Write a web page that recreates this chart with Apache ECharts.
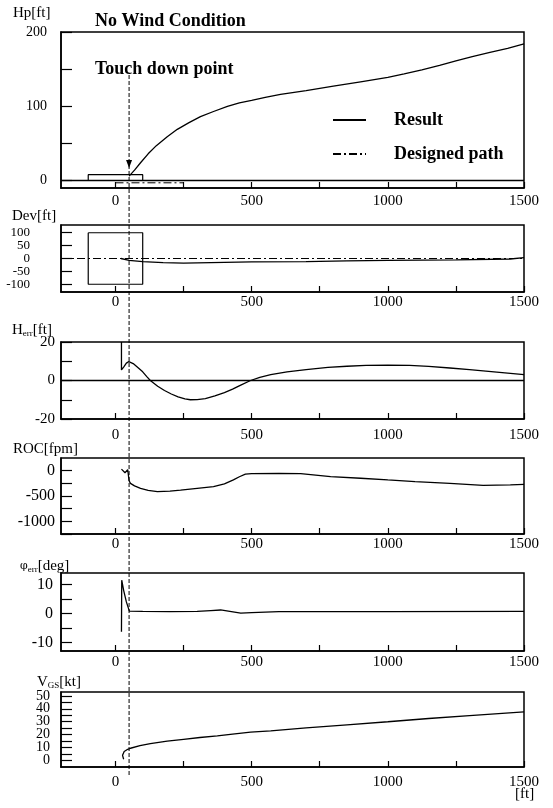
<!DOCTYPE html>
<html>
<head>
<meta charset="utf-8">
<script src="https://cdn.jsdelivr.net/npm/echarts@6/dist/echarts.min.js"></script>
<style>
html,body{margin:0;padding:0;background:#fff}
#main{width:553px;height:808px}
</style>
</head>
<body>
<div id="main"></div>
<script>
// x axis (distance, ft)
var xLabels = [0, 500, 1000, 1500];
var xTicks = [0, 250, 500, 750, 1000, 1250, 1500];
var touchDownX = 50;

// Hp[ft]
var hpResult = [[50,6],[70,14],[92,24],[120,36],[150,47],[190,59],[227,69],[270,78],[312,86],[360,93],[411,100],[455,104.5],[500,108],[550,112],[606,116],[700,121],[800,127],[900,133],[1000,139],[1060,143.5],[1125,149],[1190,155],[1250,161],[1310,167],[1375,172.5],[1440,178],[1500,184]];
var hpDesigned = [[0,-3],[250,-3]];
var hpZero = [[-200,0],[1500,0]];
var hpRunway = [[-100,0],[-100,8],[100,8],[100,0]];

// Dev[ft]
var devResult = [[20,0],[50,-7],[100,-12],[175,-16],[250,-18],[400,-15],[500,-13],[700,-12],[850,-9],[1000,-7],[1250,-5],[1450,-2],[1500,3]];
var devDesigned = [[-200,0],[1500,0]];
var devBox = [[-100,100],[-100,-100],[100,-100],[100,100],[-100,100]];

// Herr[ft]
var herrResult = [[22,20],[22,5.5],[30,7],[40,9],[49,9.8],[65,8.8],[80,7],[100,4.5],[115,2],[128,0],[155,-3],[180,-5.2],[205,-7],[230,-8.5],[255,-9.6],[275,-10],[300,-9.9],[330,-9.4],[365,-8],[400,-6.3],[430,-4.5],[460,-2.4],[496,0],[530,1.6],[570,3],[630,4.5],[700,5.7],[780,6.8],[850,7.4],[920,7.9],[1000,8],[1080,7.9],[1150,7.3],[1228,6.5],[1300,5.6],[1400,4.3],[1500,3]];
var herrZero = [[-200,0],[1500,0]];

// ROC[fpm]
var rocResult = [[22,30],[35,-40],[45,20],[50,-200],[55,-250],[70,-300],[92,-350],[120,-390],[154,-413],[200,-405],[239,-385],[300,-350],[360,-315],[400,-260],[433,-183],[455,-120],[477,-70],[500,-60],[600,-55],[680,-58],[790,-118],[900,-150],[1000,-183],[1100,-215],[1228,-250],[1350,-290],[1450,-280],[1500,-270]];

// phi_err[deg]
var phiResult = [[22,-6.3],[23,11.5],[30,8],[40,4],[51,0.8],[100,0.7],[200,0.6],[300,0.7],[350,1],[386,1.2],[420,0.7],[460,0.1],[500,0.3],[600,0.6],[1000,0.6],[1500,0.7]];

// Vgs[kt]
var vgsResult = [[30,1],[26,4],[32,7],[45,8.7],[55,9.5],[90,11.5],[128,13],[190,15],[250,16.4],[310,17.8],[374,19],[430,20.5],[496,22],[570,23],[700,25.2],[850,27.6],[1000,30],[1150,32.5],[1300,34.7],[1500,37.7]];
var vgsLabelsOdd = [10, 30, 50];

var FONT = 'Liberation Serif';
var grids = [
  {top:32, height:156},
  {top:225, height:67},
  {top:342, height:77},
  {top:458, height:76},
  {top:573, height:78},
  {top:692, height:75}
];
var xLabelMargin = [6, 3, 9, 3, 4, 8];

var yConf = [
  {min:-10, max:200, labels:[0,100,200], ticks:[0,50,100,150,200], size:14, lh:14, margin:14,
   name:'{a|Hp[ft]}', nx:13, ny:6},
  {min:-130, max:130, labels:[-100,-50,0,50,100], ticks:[-100,-50,0,50,100], size:13, lh:11, margin:31,
   name:'{a|Dev[ft]}', nx:12, ny:209},
  {min:-20, max:20, labels:[-20,0,20], ticks:[-20,-10,0,10,20], size:15, lh:15, margin:6,
   name:'{a|H}{b|err}{a|[ft]}', nx:12, ny:323},
  {min:-1250, max:250, labels:[-1000,-500,0], ticks:[-1250,-1000,-750,-500,-250,0], size:16, lh:16, margin:6,
   name:'{a|ROC[fpm]}', nx:13, ny:442},
  {min:-13, max:14, labels:[-10,0,10], ticks:[-10,-5,0,5,10], size:16, lh:16, margin:8,
   name:'{c|φ}{b|err}{a|[deg]}', nx:20, ny:559},
  {min:-5, max:53, labels:[0,20,40], ticks:[0,5,10,15,20,25,30,35,40,45,50], size:14, lh:12, margin:11,
   name:'{a|V}{b|GS}{a|[kt]}', nx:37, ny:675}
];

var nameRich = {
  a:{fontFamily:FONT, fontSize:15, fontWeight:'normal', color:'#000'},
  b:{fontFamily:FONT, fontSize:9, fontWeight:'normal', color:'#000', verticalAlign:'bottom', padding:[6,0,0,0]},
  c:{fontFamily:'DejaVu Serif', fontSize:11, fontWeight:'normal', color:'#000'}
};

function plain(v) { return String(v); }

var yAxes = yConf.map(function (c, i) {
  return {
    type:'value', gridIndex:i, min:c.min, max:c.max,
    axisLine:{show:true, onZero:false, lineStyle:{color:'#000', width:1.5}},
    axisTick:{show:true, inside:true, length:11, customValues:c.ticks, lineStyle:{color:'#000', width:1.2}},
    axisLabel:{show:true, customValues:c.labels, formatter:plain, margin:c.margin,
               showMinLabel:true, showMaxLabel:true, hideOverlap:false,
               fontSize:c.size, lineHeight:c.lh, fontFamily:FONT, color:'#000'},
    splitLine:{show:false}
  };
});
// second label row for the tightly packed Vgs axis
yAxes.push({
  type:'value', gridIndex:5, min:yConf[5].min, max:yConf[5].max, position:'left',
  axisLine:{show:false}, axisTick:{show:false}, splitLine:{show:false},
  axisLabel:{show:true, customValues:vgsLabelsOdd, formatter:plain, margin:yConf[5].margin,
             showMinLabel:true, showMaxLabel:true,
             fontSize:yConf[5].size, lineHeight:yConf[5].lh, fontFamily:FONT, color:'#000'}
});

var option = {
  backgroundColor: '#fff',
  animation: false,
  textStyle: {fontFamily: FONT, color: '#000'},
  grid: grids.map(function (g) {
    return {left:61, right:29, top:g.top, height:g.height, show:true,
            borderColor:'#000', borderWidth:1.5, backgroundColor:'#fff',
            containLabel:false, outerBoundsMode:'none'};
  }),
  xAxis: grids.map(function (g, i) {
    return {
      type:'value', gridIndex:i, min:-200, max:1500,
      axisLine:{show:true, onZero:false, lineStyle:{color:'#000', width:1.5}},
      axisTick:{show:true, inside:true, length:6, customValues:xTicks, lineStyle:{color:'#000', width:1.2}},
      axisLabel:{show:true, customValues:xLabels, formatter:plain, margin:xLabelMargin[i],
                 fontSize:15, fontFamily:FONT, color:'#000'},
      splitLine:{show:false}
    };
  }),
  yAxis: yAxes,
  legend: {
    data:['Result','Designed path'],
    orient:'vertical', left:327, top:106,
    itemWidth:33, itemHeight:14, itemGap:16,
    itemStyle:{opacity:0},
    textStyle:{fontFamily:FONT, fontSize:18, fontWeight:'bold', color:'#000', padding:[0,0,0,23]},
    selectedMode:false
  },
  title: [
    {text:'No Wind Condition', left:90, top:7,
     textStyle:{fontFamily:FONT, fontSize:18, fontWeight:'bold', color:'#000'}},
    {text:'Touch down point', left:90, top:55,
     textStyle:{fontFamily:FONT, fontSize:18, fontWeight:'bold', color:'#000'}}
  ].concat(yConf.map(function (c) {
    return {text:c.name, left:c.nx, top:c.ny, padding:0,
            textStyle:{fontWeight:'normal', rich:nameRich}};
  })),
  series: []
};

function line(name, data, idx, style) {
  return {
    name:name, type:'line', data:data, xAxisIndex:idx, yAxisIndex:idx,
    symbol:'none', silent:true,
    lineStyle:Object.assign({color:'#000', width:1.3}, style || {}),
    itemStyle:{color:'#000'}
  };
}
var dashDot = {type:[8,3,2,3], width:1};

option.series = [
  line('Result', hpResult, 0),
  line('Designed path', hpDesigned, 0, dashDot),
  line('hpZero', hpZero, 0, {width:1.5}),
  line('hpRunway', hpRunway, 0, {width:1.2}),
  line('devBox', devBox, 1, {width:1.2}),
  line('devDesigned', devDesigned, 1, dashDot),
  line('devResult', devResult, 1),
  line('herrZero', herrZero, 2, {width:1.3}),
  line('herrResult', herrResult, 2),
  line('rocResult', rocResult, 3),
  line('phiResult', phiResult, 4),
  line('vgsResult', vgsResult, 5)
];

var chart = echarts.init(document.getElementById('main'), null, {renderer:'canvas'});
chart.setOption(option);

// touch down marker line across all panels
var tdx = chart.convertToPixel({xAxisIndex:0}, touchDownX);
var arrowTip = chart.convertToPixel({yAxisIndex:0}, 17);
chart.setOption({
  graphic: [
    {type:'line', silent:true, z:10,
     shape:{x1:tdx, y1:75, x2:tdx, y2:777},
     style:{stroke:'#000', lineWidth:1, lineDash:[4,2]}},
    {type:'polygon', silent:true, z:10,
     shape:{points:[[tdx-3, arrowTip-8],[tdx+3, arrowTip-8],[tdx, arrowTip]]},
     style:{fill:'#000'}},
    {type:'text', left:515, top:787,
     style:{text:'[ft]', font:'15px ' + FONT, fill:'#000'}}
  ]
});
</script>
</body>
</html>
